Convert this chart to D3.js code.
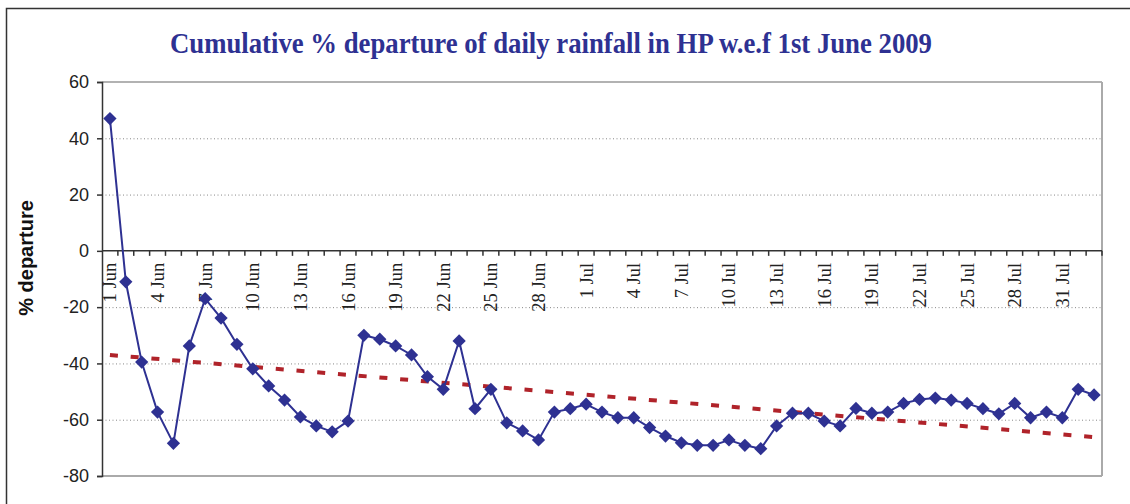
<!DOCTYPE html>
<html>
<head>
<meta charset="utf-8">
<script src="https://cdn.jsdelivr.net/npm/d3@7"></script>
<style>
  html, body { margin: 0; padding: 0; background: #fff; }
  svg { display: block; }
</style>
</head>
<body>
<svg id="chart" width="1130" height="504"></svg>
<script>
// ---- data ----
const categories = [
  "1 Jun","2 Jun","3 Jun","4 Jun","5 Jun","6 Jun","7 Jun","8 Jun","9 Jun","10 Jun",
  "11 Jun","12 Jun","13 Jun","14 Jun","15 Jun","16 Jun","17 Jun","18 Jun","19 Jun","20 Jun",
  "21 Jun","22 Jun","23 Jun","24 Jun","25 Jun","26 Jun","27 Jun","28 Jun","29 Jun","30 Jun",
  "1 Jul","2 Jul","3 Jul","4 Jul","5 Jul","6 Jul","7 Jul","8 Jul","9 Jul","10 Jul",
  "11 Jul","12 Jul","13 Jul","14 Jul","15 Jul","16 Jul","17 Jul","18 Jul","19 Jul","20 Jul",
  "21 Jul","22 Jul","23 Jul","24 Jul","25 Jul","26 Jul","27 Jul","28 Jul","29 Jul","30 Jul",
  "31 Jul","1 Aug","2 Aug"
];
const departure = [
  47, -11, -39.5, -57.3, -68.4, -33.8, -17, -23.9, -33.2, -41.9,
  -48, -53, -59, -62.2, -64.3, -60.5, -30, -31.4, -33.8, -37,
  -44.7, -49.2, -32, -56.1, -49.2, -61.1, -64, -67.2, -57.3, -56.1,
  -54.5, -57.3, -59.3, -59.3, -62.8, -65.8, -68.2, -69.1, -69.1, -67.2,
  -69.1, -70.3, -62.2, -57.7, -57.7, -60.5, -62.2, -56, -57.7, -57.3,
  -54.2, -52.8, -52.3, -53, -54.2, -56.1, -57.9, -54.2, -59.3, -57.3,
  -59.3, -49.2, -51.2
];
const xTickLabels = ["1 Jun","4 Jun","7 Jun","10 Jun","13 Jun","16 Jun","19 Jun","22 Jun","25 Jun","28 Jun",
  "1 Jul","4 Jul","7 Jul","10 Jul","13 Jul","16 Jul","19 Jul","22 Jul","25 Jul","28 Jul","31 Jul"];
const yTicks = [60, 40, 20, 0, -20, -40, -60, -80];
const gridValues = [40, 20, -20, -40, -60];
const titleText = "Cumulative % departure of daily rainfall in HP w.e.f 1st June 2009";
const yTitle = "% departure";

// ---- layout ----
const svg = d3.select("#chart");
const L = 102, R = 1102, T = 82, B = 476;

const x = d3.scaleBand().domain(categories).range([L, R]).paddingInner(0).paddingOuter(0);
const y = d3.scaleLinear().domain([-80, 60]).range([B, T]);
const cx = d => x(d) + x.bandwidth() / 2;

// outer border
svg.append("rect").attr("x", 6.5).attr("y", 8.5).attr("width", 1200).attr("height", 600)
  .attr("fill", "none").attr("stroke", "#333").attr("stroke-width", 1.5);

// title
svg.append("text").attr("x", 551).attr("y", 53)
  .attr("text-anchor", "middle")
  .attr("font-family", "'Liberation Serif','Times New Roman',serif")
  .attr("font-weight", "bold").attr("font-size", 29)
  .attr("fill", "#2E3192")
  .attr("textLength", 762).attr("lengthAdjust", "spacingAndGlyphs")
  .text(titleText);

// grid lines
svg.append("g").selectAll("line").data(gridValues).join("line")
  .attr("x1", L).attr("x2", R)
  .attr("y1", d => y(d) + 0.5).attr("y2", d => y(d) + 0.5)
  .attr("stroke", "#888").attr("stroke-width", 1).attr("stroke-dasharray", "1,2.5");

// plot frame: top, right, bottom
svg.append("line").attr("x1", L).attr("x2", R).attr("y1", y(60)).attr("y2", y(60))
  .attr("stroke", "#999").attr("stroke-width", 1.5);
svg.append("line").attr("x1", R).attr("x2", R).attr("y1", y(60)).attr("y2", y(-80))
  .attr("stroke", "#aaa").attr("stroke-width", 2);
svg.append("line").attr("x1", L).attr("x2", R).attr("y1", y(-80)).attr("y2", y(-80))
  .attr("stroke", "#aaa").attr("stroke-width", 2);

// y axis
const yAxis = d3.axisLeft(y).tickValues(yTicks).tickSize(5).tickFormat(d3.format("d"));
const gy = svg.append("g").attr("transform", `translate(${L},0)`).call(yAxis);
gy.select(".domain").attr("stroke", "#333").attr("stroke-width", 1.5);
gy.selectAll(".tick line").attr("stroke", "#333").attr("stroke-width", 1.5);
gy.selectAll(".tick text")
  .attr("x", -13)
  .attr("font-family", "'Liberation Sans',Arial,sans-serif")
  .attr("font-size", 18).attr("fill", "#222")
  .text(d => d < 0 ? "-" + Math.abs(d) : d);

// y title
svg.append("text")
  .attr("transform", `translate(33,258) rotate(-90)`)
  .attr("text-anchor", "middle")
  .attr("font-family", "'Liberation Sans',Arial,sans-serif")
  .attr("font-weight", "bold").attr("font-size", 20).attr("fill", "#111")
  .text(yTitle);

// x axis at zero
const y0 = y(0);
svg.append("line").attr("x1", L).attr("x2", R).attr("y1", y0).attr("y2", y0)
  .attr("stroke", "#333").attr("stroke-width", 1.5);
const boundaries = categories.map(c => x(c)).concat([x.range()[1]]);
svg.append("g").selectAll("line").data(boundaries.slice(1)).join("line")
  .attr("x1", d => d).attr("x2", d => d)
  .attr("y1", y0).attr("y2", y0 + 5)
  .attr("stroke", "#333").attr("stroke-width", 1.5);

svg.append("g").selectAll("text").data(xTickLabels).join("text")
  .attr("transform", d => `translate(${cx(d)},${y0 + 12}) rotate(-90)`)
  .attr("text-anchor", "end").attr("dy", "0.35em")
  .attr("font-family", "'Liberation Serif','Times New Roman',serif")
  .attr("font-size", 18.5).attr("fill", "#222")
  .text(d => d);

// linear trend (least squares, as Excel trendline)
const n = departure.length;
const idx = d3.range(n);
const mx = d3.mean(idx), my = d3.mean(departure);
const slope = d3.sum(idx, i => (i - mx) * (departure[i] - my)) / d3.sum(idx, i => (i - mx) ** 2);
const intercept = my - slope * mx;
svg.append("line")
  .attr("x1", cx(categories[0])).attr("y1", y(intercept))
  .attr("x2", cx(categories[n - 1])).attr("y2", y(intercept + slope * (n - 1)))
  .attr("stroke", "#B0232A").attr("stroke-width", 4).attr("stroke-dasharray", "8,12.8");

// series line
const line = d3.line().x((d, i) => cx(categories[i])).y(d => y(d));
svg.append("path").datum(departure).attr("d", line)
  .attr("fill", "none").attr("stroke", "#2E3192").attr("stroke-width", 2);

// diamond markers
svg.append("g").selectAll("path").data(departure).join("path")
  .attr("d", d3.symbol(d3.symbolSquare, 88)())
  .attr("transform", (d, i) => `translate(${cx(categories[i])},${y(d)}) rotate(45)`)
  .attr("fill", "#2E3192");
</script>
</body>
</html>
